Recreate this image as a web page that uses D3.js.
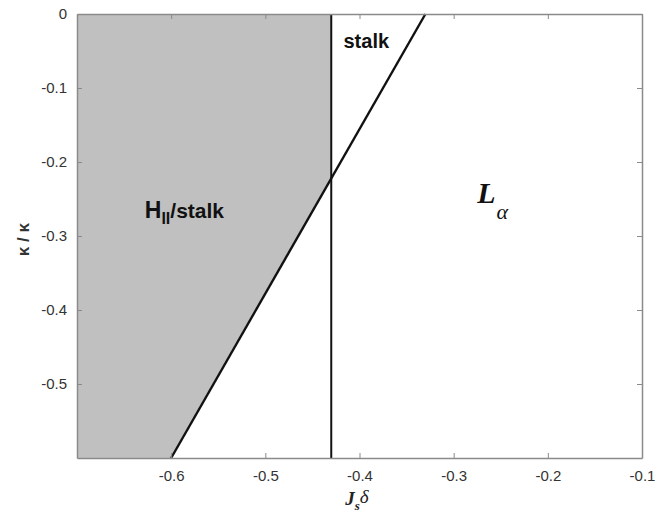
<!DOCTYPE html>
<html>
<head>
<meta charset="utf-8">
<script src="https://cdn.jsdelivr.net/npm/d3@7"></script>
<style>
  body { margin: 0; background: #fff; }
</style>
</head>
<body>
<div id="chart"></div>
<script>
// Axis ranges and ticks
const xDomain = [-0.7, -0.1];
const yDomain = [-0.6, 0];
const xTicks = [-0.6, -0.5, -0.4, -0.3, -0.2, -0.1];
const yTicks = [0, -0.1, -0.2, -0.3, -0.4, -0.5];

// Phase boundaries
const stalkBoundaryX = -0.43;                    // vertical line
const diagonalLine = [[-0.6, -0.6], [-0.33, 0]]; // H_II/stalk vs L_alpha

const width = 667;
const height = 514;
const margin = { top: 14, right: 25, bottom: 56, left: 77 };
const sans = "'Liberation Sans', Arial, Helvetica, sans-serif";
const serif = "'Liberation Serif', 'Times New Roman', serif";

const svg = d3.select("#chart").append("svg")
  .attr("width", width)
  .attr("height", height)
  .style("font-family", sans);

const x = d3.scaleLinear().domain(xDomain).range([margin.left, width - margin.right]);
const y = d3.scaleLinear().domain(yDomain).range([height - margin.bottom, margin.top]);

// plain hyphen minus like the original
const fmt = d => d === 0 ? "0" : d.toFixed(1);

// Intersection of the diagonal with the vertical boundary
const [[dx0, dy0], [dx1, dy1]] = diagonalLine;
const slope = (dy1 - dy0) / (dx1 - dx0);
const yCross = dy0 + slope * (stalkBoundaryX - dx0);

// Gray H_II/stalk region
const region = [
  [xDomain[0], yDomain[1]],
  [stalkBoundaryX, yDomain[1]],
  [stalkBoundaryX, yCross],
  [dx0, dy0],
  [xDomain[0], yDomain[0]]
];
svg.append("path")
  .attr("d", d3.line().x(d => x(d[0])).y(d => y(d[1]))(region) + "Z")
  .attr("fill", "#c0c0c0");

// Boundary lines
svg.append("line")
  .attr("x1", x(stalkBoundaryX)).attr("x2", x(stalkBoundaryX))
  .attr("y1", y(yDomain[0])).attr("y2", y(yDomain[1]))
  .attr("stroke", "#111").attr("stroke-width", 2);

svg.append("path")
  .attr("d", d3.line().x(d => x(d[0])).y(d => y(d[1]))(diagonalLine))
  .attr("fill", "none")
  .attr("stroke", "#111")
  .attr("stroke-width", 2.4);

// Axes (MATLAB style, ticks inside, box)
const axisColor = "#8a8a8a";
const tickLen = 5;

function styleAxis(g) {
  g.attr("font-family", null);
  g.select(".domain").attr("stroke", axisColor).attr("stroke-width", 1.5);
  g.selectAll(".tick line").attr("stroke", axisColor);
  g.selectAll(".tick text").attr("fill", "#333").attr("font-size", 15);
}

svg.append("g")
  .attr("transform", `translate(0,${y(yDomain[0])})`)
  .call(d3.axisBottom(x).tickValues(xTicks).tickSizeInner(-tickLen).tickSizeOuter(0)
    .tickPadding(12).tickFormat(fmt))
  .call(styleAxis);

svg.append("g")
  .attr("transform", `translate(0,${y(yDomain[1])})`)
  .call(d3.axisTop(x).tickValues(xTicks).tickSizeInner(-tickLen).tickSizeOuter(0).tickFormat(""))
  .call(styleAxis);

svg.append("g")
  .attr("transform", `translate(${x(xDomain[0])},0)`)
  .call(d3.axisLeft(y).tickValues(yTicks).tickSizeInner(-tickLen).tickSizeOuter(0)
    .tickPadding(10).tickFormat(fmt))
  .call(styleAxis);

svg.append("g")
  .attr("transform", `translate(${x(xDomain[1])},0)`)
  .call(d3.axisRight(y).tickValues(yTicks).tickSizeInner(-tickLen).tickSizeOuter(0).tickFormat(""))
  .call(styleAxis);

// Region labels
svg.append("text")
  .attr("x", x(-0.417)).attr("y", y(-0.046))
  .attr("font-size", 20).attr("font-weight", "bold").attr("fill", "#111")
  .text("stalk");

const hLabel = svg.append("text")
  .attr("x", x(-0.628)).attr("y", y(-0.276))
  .attr("font-size", 21).attr("font-weight", "bold").attr("fill", "#111");
hLabel.append("tspan").attr("font-size", 23).text("H");
hLabel.append("tspan").attr("dy", 6).attr("font-size", 16).text("II");
hLabel.append("tspan").attr("dy", -6).text("/stalk");

const lLabel = svg.append("text")
  .attr("x", x(-0.275)).attr("y", y(-0.255))
  .style("font-family", serif).attr("fill", "#111");
lLabel.append("tspan").attr("font-size", 30).attr("font-weight", "bold").attr("font-style", "italic").text("L");
lLabel.append("tspan").attr("dy", 16).attr("dx", 1).attr("font-size", 22).attr("font-style", "italic").text("α");

// Axis titles
const xTitle = svg.append("text")
  .attr("x", x(-0.43) + 14).attr("y", 505)
  .style("font-family", serif).attr("fill", "#222");
xTitle.append("tspan").attr("font-size", 19).attr("font-weight", "bold").attr("font-style", "italic").text("J");
xTitle.append("tspan").attr("dy", 5).attr("font-size", 13).attr("font-style", "italic").attr("font-weight", "bold").text("s");
xTitle.append("tspan").attr("dy", -7).attr("font-size", 19).attr("font-style", "italic").text("δ");

svg.append("text")
  .attr("transform", `translate(29,${y(-0.305)}) rotate(-90)`)
  .attr("text-anchor", "middle")
  .attr("font-size", 17).attr("font-weight", "bold").attr("fill", "#333")
  .text("κ / κ");
</script>
</body>
</html>
